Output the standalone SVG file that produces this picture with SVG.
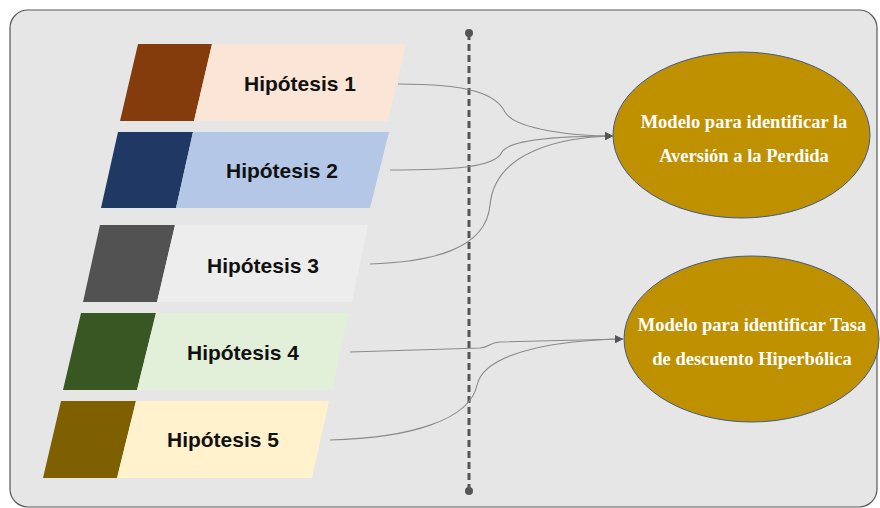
<svg xmlns="http://www.w3.org/2000/svg" width="880" height="508" viewBox="0 0 880 508">
<defs>
<style>
.hyp{font-family:"Liberation Sans",Arial,sans-serif;font-weight:bold;font-size:21px;fill:#111;text-anchor:middle}
.mod{font-family:"Liberation Serif","Times New Roman",serif;font-weight:bold;font-size:18.5px;fill:#fff;text-anchor:middle}
.con{fill:none;stroke:#8a8a8a;stroke-width:1.1}
.ell{fill:#BF9000;stroke:#3f5b8c;stroke-width:1}
</style>
<marker id="arr" viewBox="0 0 10 10" refX="10" refY="5" markerWidth="8" markerHeight="8" markerUnits="userSpaceOnUse" orient="auto">
<path d="M0,0 L10,5 L0,10 z" fill="#555"/>
</marker>
</defs>
<rect x="10" y="10" width="867" height="497" rx="18" fill="#E6E6E6" stroke="#595959" stroke-width="1.2"/>
<g id="separator">
<line x1="469" y1="33" x2="469" y2="491" stroke="#555" stroke-width="3" stroke-dasharray="7,4"/>
<circle cx="469" cy="33" r="4" fill="#555"/>
<circle cx="469" cy="491" r="4" fill="#555"/>
</g>
<g id="h1">
<polygon points="138,44 212,44 194,121 120,121" fill="#843C0C"/>
<polygon points="212,44 406,44 388,121 194,121" fill="#FBE5D6"/>
<text class="hyp" x="300" y="91">Hipótesis 1</text>
</g>
<g id="h2">
<polygon points="118,132 193,132 176,208 101,208" fill="#203864"/>
<polygon points="193,132 389,132 370,208 176,208" fill="#B4C7E7"/>
<text class="hyp" x="282" y="178">Hipótesis 2</text>
</g>
<g id="h3">
<polygon points="100,225 175,225 157,302 83,302" fill="#525252"/>
<polygon points="175,225 368,225 352,302 157,302" fill="#EDEDED"/>
<text class="hyp" x="263" y="273">Hipótesis 3</text>
</g>
<g id="h4">
<polygon points="81,313 156,313 137,390 63,390" fill="#385723"/>
<polygon points="156,313 349,313 332,390 137,390" fill="#E2F0D9"/>
<text class="hyp" x="243" y="360">Hipótesis 4</text>
</g>
<g id="h5">
<polygon points="61,401 136,401 117,478 43,478" fill="#7F6000"/>
<polygon points="136,401 329,401 312,478 117,478" fill="#FFF2CC"/>
<text class="hyp" x="223" y="447">Hipótesis 5</text>
</g>
<g id="m1">
<ellipse class="ell" cx="741.5" cy="135" rx="128.5" ry="83"/>
<text class="mod" x="744" y="128">Modelo para identificar la</text>
<text class="mod" x="744" y="162">Aversión a la Perdida</text>
</g>
<g id="m2">
<ellipse class="ell" cx="751.5" cy="339" rx="127.5" ry="83"/>
<text class="mod" x="752" y="331">Modelo para identificar Tasa</text>
<text class="mod" x="752" y="365">de descuento Hiperbólica</text>
</g>
<g id="connectors">
<path class="con" d="M398,84 C470,84 496,94 505,112 C515,130 575,136 613,136" marker-end="url(#arr)"/>
<path class="con" d="M390,170 C450,170 495,168 502,152 C510,138 575,136 613,136" marker-end="url(#arr)"/>
<path class="con" d="M370,264 C430,262 486,250 490,205 C495,150 565,137 613,136" marker-end="url(#arr)"/>
<path class="con" d="M350,352 L480,348 C490,347 488,343 500,342 L623,339" marker-end="url(#arr)"/>
<path class="con" d="M330,440 C410,438 470,420 477,385 C485,350 565,340 623,339" marker-end="url(#arr)"/>
</g>
</svg>
